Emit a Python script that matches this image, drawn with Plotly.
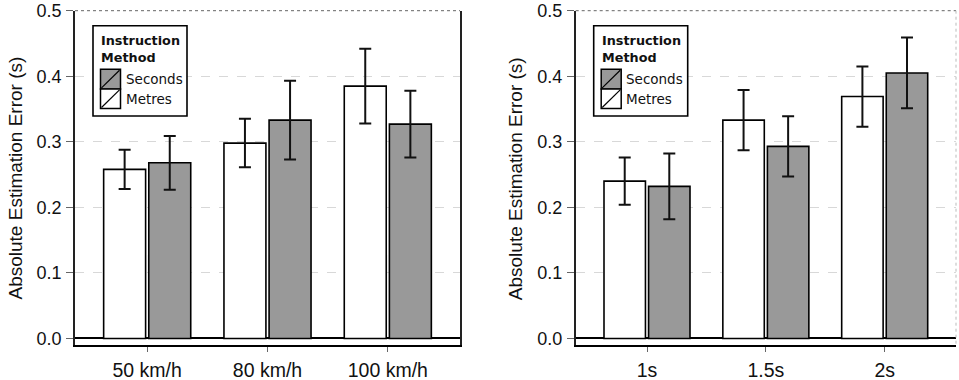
import plotly.graph_objects as go

W, H = 959, 380

# ---- data ----
speed_cats = ["50 km/h", "80 km/h", "100 km/h"]
speed_metres = [0.258, 0.298, 0.385]
speed_metres_err = [0.030, 0.037, 0.057]
speed_seconds = [0.268, 0.333, 0.327]
speed_seconds_err = [0.041, 0.060, 0.051]

gap_cats = ["1s", "1.5s", "2s"]
gap_metres = [0.240, 0.333, 0.369]
gap_metres_err = [0.036, 0.046, 0.046]
gap_seconds = [0.232, 0.293, 0.405]
gap_seconds_err = [0.050, 0.046, 0.054]

y_ticks = [0.0, 0.1, 0.2, 0.3, 0.4, 0.5]
y_title = "Absolute Estimation Error (s)"
legend_title = "Instruction<br>Method"
legend_labels = ["Seconds", "Metres"]

GRAY = "#999999"
WHITE = "#ffffff"
FONT = "Liberation Sans, Arial"


def px(x):
    return x / W


def py(y):
    return 1 - y / H


fig = go.Figure()

panels = [
    ("x", "y", speed_cats, speed_metres, speed_metres_err, speed_seconds, speed_seconds_err),
    ("x2", "y2", gap_cats, gap_metres, gap_metres_err, gap_seconds, gap_seconds_err),
]
for xa, ya, cats, m, me, s, se in panels:
    for vals, errs, col in [(m, me, WHITE), (s, se, GRAY)]:
        fig.add_trace(go.Bar(
            x=cats, y=vals, xaxis=xa, yaxis=ya,
            marker=dict(color=col, line=dict(color="black", width=1.6)),
            error_y=dict(type="data", array=errs, visible=True,
                         color="#111", thickness=2, width=6),
            showlegend=False, hoverinfo="skip",
        ))

ydom = [py(345), py(10.7)]
x1dom = [px(75), px(460)]
x2dom = [px(575.7), px(956)]

common_x = dict(range=[-0.6, 2.6], showline=True, linecolor="black", linewidth=1.5,
                ticks="outside", ticklen=5, tickcolor="#666", tickwidth=1.2,
                showgrid=False, zeroline=False, automargin=False,
                tickfont=dict(family=FONT, size=19.5, color="#111"),
                ticklabelstandoff=2)
common_y = dict(range=[-0.01, 0.5], tickvals=y_ticks, tickformat=".1f",
                showline=True, linecolor="#222", linewidth=1.5,
                ticks="outside", ticklen=7, tickcolor="#666", tickwidth=1.2,
                showgrid=True, gridcolor="#d8d8d8", griddash="dash", gridwidth=1,
                zeroline=True, zerolinecolor="black", zerolinewidth=1.6,
                automargin=False, ticklabelstandoff=1,
                tickfont=dict(family=FONT, size=18, color="#111"))

fig.update_layout(
    width=W, height=H,
    margin=dict(l=0, r=0, t=0, b=0),
    paper_bgcolor="white", plot_bgcolor="white",
    barmode="group", bargap=0.25, bargroupgap=0.07,
    xaxis=dict(domain=x1dom, anchor="y", **common_x),
    yaxis=dict(domain=ydom, anchor="x", mirror=True, **common_y),
    xaxis2=dict(domain=x2dom, anchor="y2", **common_x),
    yaxis2=dict(domain=ydom, anchor="x2", mirror=False, **common_y),
    showlegend=False,
)

shapes = []
annotations = []
for axleft, axright, xa, solid_right in [(75, 460, "x", True), (575.7, 956, "x2", False)]:
    # top dotted line at 0.5
    shapes.append(dict(type="line", xref="paper", yref="paper",
                       x0=px(axleft), x1=px(axright), y0=py(10.7), y1=py(10.7),
                       line=dict(color="#666", width=1, dash="dot")))
    if not solid_right:
        shapes.append(dict(type="line", xref="paper", yref="paper",
                           x0=px(axright), x1=px(axright), y0=py(10.7), y1=py(345),
                           line=dict(color="#bbb", width=1, dash="dot")))
    # legend box
    bx0 = axleft + 18
    bx1 = bx0 + 94
    shapes.append(dict(type="rect", xref="paper", yref="paper",
                       x0=px(bx0), x1=px(bx1), y0=py(25.7), y1=py(116),
                       line=dict(color="black", width=1.6), fillcolor="white"))
    sx0 = bx0 + 7.5
    sx1 = sx0 + 20
    for i, (lab, col) in enumerate(zip(legend_labels, [GRAY, WHITE])):
        sy0 = 69.3 + i * 19.6
        sy1 = sy0 + 19.6
        shapes.append(dict(type="rect", xref="paper", yref="paper",
                           x0=px(sx0), x1=px(sx1), y0=py(sy1), y1=py(sy0),
                           line=dict(color="black", width=1.5), fillcolor=col))
        shapes.append(dict(type="line", xref="paper", yref="paper",
                           x0=px(sx0 + 1), x1=px(sx1 - 1), y0=py(sy1 - 1), y1=py(sy0 + 1),
                           line=dict(color="black", width=1.2)))
        annotations.append(dict(xref="paper", yref="paper", x=px(sx1 + 3), y=py((sy0 + sy1) / 2),
                                text=lab, showarrow=False, xanchor="left", yanchor="middle",
                                font=dict(family="DejaVu Sans", size=13.5, color="#111")))
    annotations.append(dict(xref="paper", yref="paper", x=px(bx0 + 6), y=py(31),
                            text="<b>" + legend_title.replace("<br>", "</b><br><b>") + "</b>",
                            showarrow=False, xanchor="left", yanchor="top", align="left",
                            font=dict(family="DejaVu Sans", size=12.8, color="#111")))
    # y axis title
    annotations.append(dict(xref="paper", yref="paper", x=px(axleft - 60), y=py(178.5),
                            text=y_title, textangle=-90, showarrow=False,
                            xanchor="center", yanchor="middle",
                            font=dict(family=FONT, size=19, color="#111")))

fig.update_layout(shapes=shapes, annotations=annotations)
fig.write_html("out.html")
